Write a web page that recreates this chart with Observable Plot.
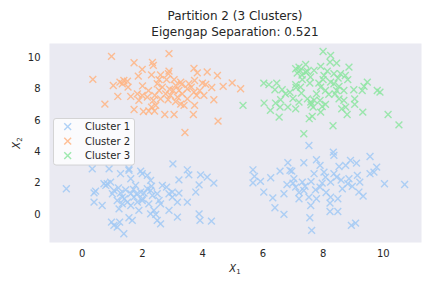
<!DOCTYPE html>
<html><head><meta charset="utf-8">
<script src="https://cdn.jsdelivr.net/npm/d3@7"></script>
<script src="https://cdn.jsdelivr.net/npm/@observablehq/plot@0.6"></script>
<style>
body{margin:0;background:#fff;font-family:"DejaVu Sans",sans-serif;}
#title{width:432px;height:40px;box-sizing:border-box;padding-top:8px;padding-left:38px;text-align:center;color:#262626;font-size:12px;line-height:16px;}
svg{display:block;}
</style></head>
<body>
<div id="title">Partition 2 (3 Clusters)<br>Eigengap Separation: 0.521</div>
<div id="chart"></div>
<script>
const names = ["Cluster 1", "Cluster 2", "Cluster 3"];
const colors = ["#a1c9f4", "#ffb482", "#8de5a1"];
const xTicks = [0, 2, 4, 6, 8, 10];
const yTicks = [0, 2, 4, 6, 8, 10];

const cluster1 = [
[3.01,3.23],[3.49,2.85],[3.54,2.53],[3.93,2.53],[4.15,2.38],[4.37,2.0],[3.88,1.89],[3.77,1.43],[3.49,0.79],[3.21,2.21],[3.21,1.36],[3.16,0.79],[3.16,-0.17],[3.88,0.04],[3.91,-0.38],[4.29,-0.43],[-0.53,1.64],[0.33,2.91],[0.39,1.38],[0.39,0.79],[0.44,1.49],[0.66,0.57],[0.72,1.96],[0.78,1.85],[0.83,1.96],[0.89,2.91],[0.94,2.06],[1.05,1.53],[0.97,-0.49],[1.05,-0.70],[1.16,-0.81],[1.24,-0.49],[1.38,-1.23],[1.27,2.60],[1.55,2.81],[1.61,2.28],[1.55,2.91],[1.16,0.89],[1.33,1.11],[1.33,0.68],[1.22,0.36],[1.50,0.79],[1.55,-0.21],[1.66,-0.38],[1.88,0.26],[1.72,1.11],[1.61,1.32],[1.44,1.57],[1.27,1.36],[1.94,2.77],[1.99,2.60],[2.16,2.49],[2.27,2.17],[1.77,1.85],[1.94,1.43],[2.16,1.64],[2.05,1.36],[2.27,1.53],[2.33,1.21],[2.38,0.26],[2.44,0.0],[2.49,-0.38],[2.60,-0.60],[2.55,0.89],[2.60,0.68],[2.66,1.85],[2.80,1.74],[2.88,1.32],[2.88,0.26],[2.99,1.11],[2.99,1.43],[2.49,1.32],[2.21,0.68],[2.27,0.04],[1.61,0.57],[1.0,1.32],[1.83,0.79],[1.99,0.89],[1.8,1.3],[2.0,1.0],[1.4,1.0],[1.7,1.6],[2.3,1.8],[1.2,1.7],
[7.53,4.40],[8.34,3.98],[8.36,3.77],[9.56,3.70],[6.83,3.30],[7.36,3.30],[7.78,3.49],[7.90,3.13],[6.57,2.77],[6.90,2.81],[6.96,2.77],[5.67,2.85],[5.72,2.43],[5.67,2.02],[5.92,2.11],[6.26,2.34],[6.03,1.43],[6.33,1.06],[6.40,0.43],[6.70,1.32],[6.70,0.0],[7.03,2.28],[7.09,1.74],[7.31,2.06],[7.36,1.53],[7.20,1.0],[7.53,1.11],[7.59,0.57],[7.56,-0.21],[7.62,-1.02],[7.75,1.57],[7.78,1.0],[8.03,2.70],[8.08,2.38],[7.97,2.0],[8.25,2.06],[8.25,1.11],[8.23,0.72],[8.23,0.19],[8.49,0.19],[8.49,1.0],[8.36,2.60],[8.53,3.06],[8.45,2.38],[8.75,3.13],[8.91,3.45],[9.11,3.28],[8.86,2.28],[8.82,1.96],[8.97,1.79],[8.64,1.64],[9.22,2.06],[9.14,2.49],[9.19,1.43],[9.33,1.17],[9.56,2.60],[9.69,2.70],[9.78,3.02],[10.04,1.96],[10.71,1.91],[8.94,-0.70],[9.08,-0.55],[7.70,2.60],[7.90,1.74],[7.4,1.8],[7.6,2.1],[7.2,1.4],[8.1,1.4],[7.0,2.0],[8.6,2.2],[6.8,1.9]
];
const cluster2 = [
[0.97,10.09],[2.88,10.26],[1.72,9.68],[2.33,9.70],[2.36,9.51],[1.99,9.26],[2.88,9.15],[2.86,8.98],[3.71,9.32],[3.82,9.04],[4.15,9.09],[4.49,8.87],[0.35,8.62],[1.86,8.83],[2.30,8.91],[2.55,8.60],[2.80,8.60],[3.05,8.60],[3.27,8.45],[3.54,8.34],[3.73,8.55],[3.99,8.38],[4.98,8.40],[4.68,8.17],[1.03,8.23],[1.25,8.45],[1.38,8.55],[1.52,8.13],[1.33,8.34],[1.18,7.53],[0.75,7.04],[1.61,7.53],[1.83,7.70],[1.99,7.60],[1.88,7.28],[1.72,6.70],[2.03,6.57],[2.21,6.60],[2.30,6.85],[2.36,7.28],[2.41,7.60],[2.55,7.91],[2.66,8.13],[2.77,7.70],[2.85,7.32],[2.93,7.60],[3.02,7.91],[3.10,8.23],[3.21,7.91],[3.32,7.70],[3.27,7.04],[3.05,6.38],[2.74,6.38],[3.49,8.02],[3.62,8.13],[3.71,7.81],[3.80,7.60],[3.73,6.96],[3.69,6.38],[4.04,7.60],[4.37,7.32],[4.10,8.30],[4.51,5.96],[3.41,5.23],[5.26,8.02],[2.49,8.34],[2.60,7.38],[2.16,7.49],[3.49,7.38],[3.38,6.96],[3.16,7.49],[2.44,6.96],[2.2,7.9],[2.9,8.0],[3.3,8.3],[2.6,8.9],[3.1,7.2],[2.0,8.2],[1.5,8.5],[3.9,7.9],[4.3,8.1],[2.4,6.6]
];
const cluster3 = [
[8.0,10.40],[8.25,10.15],[8.23,9.72],[8.45,9.66],[7.42,9.57],[7.92,9.45],[8.86,9.40],[7.09,9.30],[7.23,9.19],[7.48,9.13],[7.14,9.02],[8.14,9.15],[8.36,8.98],[8.58,8.98],[8.74,8.87],[8.03,8.87],[8.25,8.45],[8.82,8.60],[7.58,8.77],[7.31,8.60],[7.56,8.38],[7.09,8.28],[7.25,8.13],[7.86,8.38],[7.92,8.13],[8.08,7.91],[8.36,8.34],[8.53,8.17],[8.69,7.91],[9.02,7.96],[9.36,8.17],[9.47,8.45],[9.30,7.91],[9.80,7.91],[9.89,7.81],[6.03,8.38],[6.20,8.28],[6.46,8.38],[6.40,7.96],[6.64,7.96],[6.75,7.70],[6.04,7.11],[6.25,6.64],[6.42,7.11],[6.59,7.32],[6.57,6.85],[6.83,6.85],[6.54,6.21],[7.09,6.74],[7.20,7.17],[7.28,7.74],[7.48,7.38],[7.59,7.17],[7.67,6.85],[7.54,6.11],[7.64,6.26],[7.92,6.53],[7.97,6.89],[8.08,7.02],[7.90,7.28],[7.78,7.70],[8.19,7.66],[8.45,7.91],[8.62,6.74],[8.75,6.85],[8.80,6.38],[8.69,7.28],[8.53,7.38],[9.05,7.38],[9.05,7.02],[9.32,6.53],[10.16,6.38],[10.52,5.72],[8.33,5.66],[7.36,5.15],[5.34,6.96],[7.42,9.09],[7.6,7.0],[7.7,7.3],[7.3,8.9],[7.1,8.1],[8.0,8.6],[8.5,8.7],[7.2,9.4],[7.7,9.2],[8.4,7.7],[7.0,7.4],[6.9,7.8]
];

const table = [];
[cluster1, cluster2, cluster3].forEach((pts, i) => pts.forEach(([x, y]) => table.push({x, y, cluster: names[i]})));

const R = 3.2;
const chart = Plot.plot({
  width: 432, height: 248,
  marginTop: 3, marginBottom: 46, marginLeft: 49, marginRight: 11,
  style: {fontFamily: "DejaVu Sans", fontSize: "10px", color: "#262626", background: "white"},
  x: {domain: [-1.09, 11.27], axis: null},
  y: {domain: [-1.79, 10.91], axis: null},
  color: {domain: names, range: colors},
  marks: [
    Plot.frame({fill: "#EAEAF2", stroke: "none"}),
    Plot.axisX({ticks: xTicks, tickSize: 0, tickPadding: 7, label: null, fill: "#262626"}),
    Plot.axisY({ticks: yTicks, tickSize: 0, tickPadding: 9, label: null, fill: "#262626"}),
    Plot.dot(table, {x: "x", y: "y", stroke: "cluster", symbol: "times", r: R, strokeWidth: 1.4, strokeOpacity: 0.85})
  ]
});
document.getElementById("chart").appendChild(chart);

const svg = d3.select(chart);
// axis labels
const xl = svg.append("text").attr("x", 235).attr("y", 232).attr("text-anchor", "middle")
  .attr("font-size", 10).attr("fill", "#262626").attr("font-family", "DejaVu Sans");
xl.append("tspan").attr("font-style", "italic").text("X");
xl.append("tspan").attr("font-size", 7).attr("dy", 2).text("1");
const yl = svg.append("text").attr("transform", "translate(20,103) rotate(-90)").attr("text-anchor", "middle")
  .attr("font-size", 10).attr("fill", "#262626").attr("font-family", "DejaVu Sans");
yl.append("tspan").attr("font-style", "italic").text("X");
yl.append("tspan").attr("font-size", 7).attr("dy", 2).text("2");

// legend
const lg = svg.append("g").attr("font-family", "DejaVu Sans").attr("font-size", 10).attr("text-anchor", "start");
lg.append("rect").attr("x", 53.5).attr("y", 78.5).attr("width", 81).attr("height", 46.5)
  .attr("rx", 2.5).attr("fill", "white").attr("fill-opacity", 0.8).attr("stroke", "#cccccc").attr("stroke-width", 0.8);
const sym = d3.symbol(d3.symbolTimes, Math.PI * R * R);
names.forEach((n, i) => {
  const cy = 86.7 + i * 14.5;
  lg.append("path").attr("d", sym()).attr("transform", `translate(67.7,${cy})`)
    .attr("fill", "none").attr("stroke", colors[i]).attr("stroke-width", 1.4).attr("stroke-opacity", 0.85);
  lg.append("text").attr("x", 85).attr("y", cy).attr("dy", "0.35em").attr("text-anchor", "start").attr("fill", "#262626").text(n);
});
</script>
</body></html>
